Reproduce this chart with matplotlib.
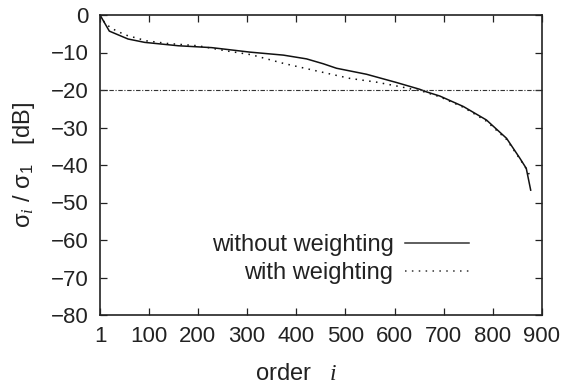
import matplotlib
matplotlib.use("Agg")
import matplotlib.pyplot as plt
from matplotlib.lines import Line2D

plt.rcParams['font.family'] = ['Liberation Sans', 'DejaVu Sans']
plt.rcParams['mathtext.fontset'] = 'custom'
plt.rcParams['mathtext.rm'] = 'Liberation Sans'
plt.rcParams['mathtext.it'] = 'Liberation Serif:italic'
plt.rcParams['mathtext.bf'] = 'Liberation Sans:bold'

# data
order_without = [1, 20, 58, 92, 160, 228, 306, 374, 421, 455, 482, 543, 604, 651, 665,
                 692, 740, 787, 828, 855, 868, 877]
db_without = [0, -4.3, -6.4, -7.3, -8.2, -8.7, -9.9, -10.7, -11.7, -13.0, -14.2, -15.8,
              -18.0, -19.8, -20.5, -21.6, -24.4, -28.0, -32.9, -38.2, -40.9, -46.7]

order_with = [1, 11, 25, 52, 96, 139, 200, 255, 309, 374, 441, 509, 563, 611, 658,
              692, 740, 787, 828, 855, 868, 874]
db_with = [0, -2.2, -3.6, -5.3, -6.9, -7.6, -8.2, -9.5, -10.6, -12.9, -14.9, -16.9,
           -17.9, -19.1, -20.4, -21.8, -24.6, -28.3, -33.2, -38.4, -41.0, -42.5]

threshold_db = -20
xticks = [1, 100, 200, 300, 400, 500, 600, 700, 800, 900]
yticks = [0, -10, -20, -30, -40, -50, -60, -70, -80]

fig = plt.figure(figsize=(5.62, 3.92), dpi=100)
ax = fig.add_axes([100/562, 1-315/392, 442/562, 300/392])

ax.plot(order_without, db_without, color='#111111', lw=1.1, solid_joinstyle='round')
ax.plot(order_with, db_with, color='#111111', lw=1.1, linestyle=(0, (1, 3.5)))
ax.axhline(threshold_db, color='#333333', lw=0.8, dashes=(4, 1.5, 1, 1.5))

ax.set_xlim(1, 900)
ax.set_ylim(-80, 0)
ax.set_xticks(xticks)
ax.set_yticks(yticks)
ax.set_yticklabels([f"{v}".replace('-', '\u2212') for v in yticks])
ax.tick_params(direction='in', length=5, width=0.9, top=True, right=True,
               labelsize=16, colors='#222222', pad=8)
for s in ax.spines.values():
    s.set_linewidth(1.2)
    s.set_color('#222222')

ax.set_xlabel(r'order   $i$', fontsize=17, color='#222222')
ax.xaxis.set_label_coords(0.445, -0.16)
ax.set_ylabel(r'σ$_i$ / σ$_1$   [dB]', fontsize=17, color='#222222')
ax.yaxis.set_label_coords(-0.143, 0.5)

handles = [Line2D([], [], color='#333333', lw=1.1),
           Line2D([], [], color='#333333', lw=1.1, linestyle=(0, (1, 3.5)))]
leg = ax.legend(handles, ['without weighting', 'with weighting'], loc='upper right',
                bbox_to_anchor=(469/562, 1-234/392), bbox_transform=fig.transFigure,
                frameon=False, markerfirst=False, fontsize=17, handlelength=2.7,
                handletextpad=0.5, labelspacing=0.26, borderpad=0, borderaxespad=0)
for t in leg.get_texts():
    t.set_color('#222222')
    t.set_ha('right')

fig.savefig('out.png', dpi=100)
